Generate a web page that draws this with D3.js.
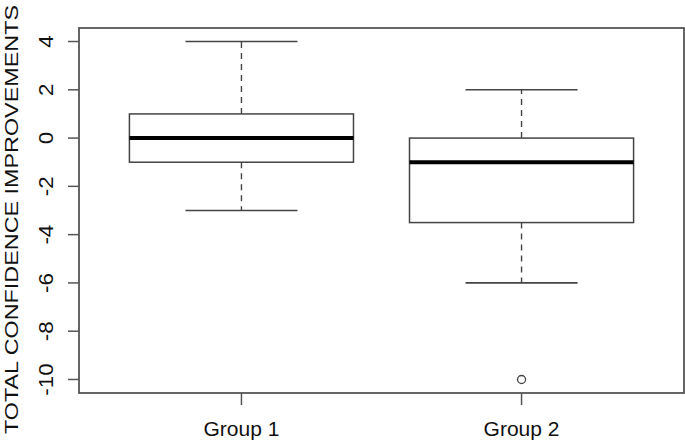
<!DOCTYPE html>
<html><head><meta charset="utf-8">
<script src="https://cdn.jsdelivr.net/npm/d3@7"></script>
<style>body{margin:0;background:#fff}svg{display:block}text{font-family:"Liberation Sans",Arial,sans-serif;fill:#111}</style>
</head><body>
<script>
const groups = ["Group 1", "Group 2"];
const lowerWhisker = [-3, -6];
const q1 = [-1, -3.5];
const median = [0, -1];
const q3 = [1, 0];
const upperWhisker = [4, 2];
const outliers = [[], [-10]];
const yTicks = [4, 2, 0, -2, -4, -6, -8, -10];
const yTitle = "TOTAL CONFIDENCE IMPROVEMENTS";

(function () {
const W = 685, H = 443;
const svg = d3.select("body").append("svg").attr("width", W).attr("height", H);
const pL = 79, pR = 684, pT = 28, pB = 393;

const x = d3.scaleLinear().domain([0.42, 2.58]).range([pL, pR]);
const y = d3.scaleLinear().domain([-10.56, 4.56]).range([pB, pT]);

const stroke = "#444";
const unit = x(1) - x(0);

svg.append("rect").attr("x", pL).attr("y", pT).attr("width", pR - pL).attr("height", pB - pT)
  .attr("fill", "none").attr("stroke", "#555").attr("stroke-width", 1.8);

const data = groups.map((g, i) => ({g, i, pos: i + 1, lw: lowerWhisker[i], q1: q1[i], med: median[i], q3: q3[i], uw: upperWhisker[i], out: outliers[i]}));

const b = svg.append("g").selectAll("g").data(data).join("g");
b.append("line").attr("x1", d => x(d.pos)).attr("x2", d => x(d.pos)).attr("y1", d => y(d.q3)).attr("y2", d => y(d.uw))
  .attr("stroke", stroke).attr("stroke-width", 1.4).attr("stroke-dasharray", "6,5");
b.append("line").attr("x1", d => x(d.pos)).attr("x2", d => x(d.pos)).attr("y1", d => y(d.q1)).attr("y2", d => y(d.lw))
  .attr("stroke", stroke).attr("stroke-width", 1.4).attr("stroke-dasharray", "6,5");
["uw", "lw"].forEach(k => {
  b.append("line").attr("x1", d => x(d.pos - 0.2)).attr("x2", d => x(d.pos + 0.2)).attr("y1", d => y(d[k])).attr("y2", d => y(d[k]))
    .attr("stroke", stroke).attr("stroke-width", 1.6);
});
b.append("rect").attr("x", d => x(d.pos - 0.4)).attr("width", 0.8 * unit).attr("y", d => y(d.q3)).attr("height", d => y(d.q1) - y(d.q3))
  .attr("fill", "#fff").attr("stroke", stroke).attr("stroke-width", 1.5);
b.append("line").attr("x1", d => x(d.pos - 0.4)).attr("x2", d => x(d.pos + 0.4)).attr("y1", d => y(d.med)).attr("y2", d => y(d.med))
  .attr("stroke", "#000").attr("stroke-width", 4);
b.selectAll("circle").data(d => d.out.map(v => ({pos: d.pos, v}))).join("circle")
  .attr("cx", d => x(d.pos)).attr("cy", d => y(d.v)).attr("r", 4)
  .attr("fill", "none").attr("stroke", stroke).attr("stroke-width", 1.3);

const ya = svg.append("g");
ya.selectAll("line").data(yTicks).join("line").attr("x1", pL - 11).attr("x2", pL).attr("y1", d => y(d)).attr("y2", d => y(d))
  .attr("stroke", "#555").attr("stroke-width", 1.5);
ya.selectAll("text").data(yTicks).join("text")
  .attr("transform", d => `translate(53,${y(d)}) rotate(-90) scale(1.12,1)`)
  .attr("text-anchor", "middle").attr("font-size", 20).text(d => d);

const xa = svg.append("g");
xa.selectAll("line").data(data).join("line").attr("x1", d => x(d.pos)).attr("x2", d => x(d.pos)).attr("y1", pB).attr("y2", pB + 12)
  .attr("stroke", "#555").attr("stroke-width", 1.5);
xa.selectAll("text").data(data).join("text").attr("x", d => x(d.pos)).attr("y", 436)
  .attr("text-anchor", "middle").attr("font-size", 21).text(d => d.g);

svg.append("text").attr("transform", `translate(18,${(434 + 5) / 2}) rotate(-90)`)
  .attr("text-anchor", "middle").attr("font-size", 19)
  .attr("textLength", 429).attr("lengthAdjust", "spacingAndGlyphs").text(yTitle);
})();
</script>
</body></html>
